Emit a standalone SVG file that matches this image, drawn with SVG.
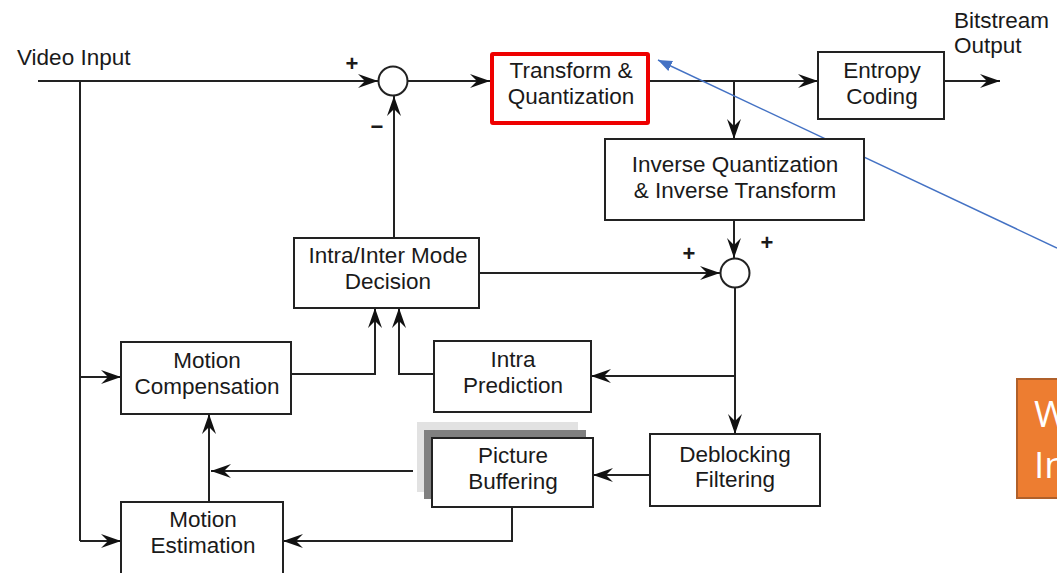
<svg xmlns="http://www.w3.org/2000/svg" width="1057" height="573" viewBox="0 0 1057 573">
<style>
  .box{fill:#fff;stroke:#222;stroke-width:2}
  .lbl{font-family:"Liberation Sans",Arial,sans-serif;font-size:22.5px;fill:#1a1a1a;text-anchor:middle}
  .lbl-l{font-family:"Liberation Sans",Arial,sans-serif;font-size:22.5px;fill:#1a1a1a}
  .sign{font-family:"Liberation Sans",Arial,sans-serif;font-size:22px;font-weight:bold;fill:#1a1a1a;text-anchor:middle}
  .wire{fill:none;stroke:#222;stroke-width:2}
  .sum{fill:#fff;stroke:#222;stroke-width:2}
</style>
<defs>
  <marker id="ah" markerUnits="userSpaceOnUse" markerWidth="22" markerHeight="14" refX="20" refY="7" orient="auto" viewBox="0 0 22 14">
    <path d="M0,0 L20,7 L0,14 L7,7 Z" fill="#111"/>
  </marker>
  <marker id="bh" markerUnits="userSpaceOnUse" markerWidth="16" markerHeight="12" refX="14" refY="5.5" orient="auto" viewBox="0 0 16 12">
    <path d="M0,0 L14,5.5 L0,11 Z" fill="#4472C4"/>
  </marker>
</defs>
<rect width="1057" height="573" fill="#fff"/>

<g id="connectors">
  <path class="wire" d="M38,81 H378" marker-end="url(#ah)"/>
  <path class="wire" d="M408,81 H490" marker-end="url(#ah)"/>
  <path class="wire" d="M650,81 H818" marker-end="url(#ah)"/>
  <path class="wire" d="M734,81 V139" marker-end="url(#ah)"/>
  <path class="wire" d="M944,81 H1000" marker-end="url(#ah)"/>
  <path class="wire" d="M734,220 V258" marker-end="url(#ah)"/>
  <path class="wire" d="M479,273 H720" marker-end="url(#ah)"/>
  <path class="wire" d="M394,238 V96" marker-end="url(#ah)"/>
  <path class="wire" d="M735,288 V434" marker-end="url(#ah)"/>
  <path class="wire" d="M735,376 H591" marker-end="url(#ah)"/>
  <path class="wire" d="M291,374 H375 V308" marker-end="url(#ah)"/>
  <path class="wire" d="M434,374 H399 V308" marker-end="url(#ah)"/>
  <path class="wire" d="M80,81 V541"/>
  <path class="wire" d="M80,377 H121" marker-end="url(#ah)"/>
  <path class="wire" d="M80,541 H121" marker-end="url(#ah)"/>
  <path class="wire" d="M209,502 V414" marker-end="url(#ah)"/>
  <path class="wire" d="M413,471 H211" marker-end="url(#ah)"/>
  <path class="wire" d="M650,475 H593" marker-end="url(#ah)"/>
  <path class="wire" d="M512,507 V541 H283" marker-end="url(#ah)"/>
  <path d="M1057,248 L658,60" fill="none" stroke="#4472C4" stroke-width="1.4" marker-end="url(#bh)"/>
</g>

<g id="video-input">
  <text class="lbl-l" x="17" y="65">Video Input</text>
</g>
<g id="bitstream-output">
  <text class="lbl-l" x="954" y="28">Bitstream</text>
  <text class="lbl-l" x="954" y="53">Output</text>
</g>

<g id="sum1">
  <circle class="sum" cx="393" cy="81" r="14.5"/>
  <text class="sign" x="352" y="71">+</text>
  <text class="sign" x="377" y="134">−</text>
</g>

<g id="sum2">
  <circle class="sum" cx="735" cy="273" r="14.5"/>
  <text class="sign" x="767" y="250">+</text>
  <text class="sign" x="689" y="261">+</text>
</g>

<g id="transform-quantization">
  <rect x="492" y="54" width="156" height="69" fill="#fff" stroke="#EE0000" stroke-width="4" rx="1"/>
  <text class="lbl" x="571" y="78">Transform &amp;</text>
  <text class="lbl" x="571" y="104">Quantization</text>
</g>

<g id="entropy-coding">
  <rect class="box" x="818" y="52" width="126" height="67"/>
  <text class="lbl" x="882" y="78">Entropy</text>
  <text class="lbl" x="882" y="104">Coding</text>
</g>

<g id="inverse-quant">
  <rect class="box" x="605" y="139" width="259" height="81"/>
  <text class="lbl" x="735" y="172">Inverse Quantization</text>
  <text class="lbl" x="735" y="198">&amp; Inverse Transform</text>
</g>

<g id="mode-decision">
  <rect class="box" x="294" y="238" width="185" height="70"/>
  <text class="lbl" x="388" y="263">Intra/Inter Mode</text>
  <text class="lbl" x="388" y="289">Decision</text>
</g>

<g id="motion-compensation">
  <rect class="box" x="121" y="342" width="170" height="72"/>
  <text class="lbl" x="207" y="368">Motion</text>
  <text class="lbl" x="207" y="394">Compensation</text>
</g>

<g id="intra-prediction">
  <rect class="box" x="434" y="341" width="157" height="71"/>
  <text class="lbl" x="513" y="367">Intra</text>
  <text class="lbl" x="513" y="393">Prediction</text>
</g>

<g id="picture-buffering">
  <rect x="417" y="422" width="161" height="70" fill="#e2e2e2"/>
  <rect x="424" y="430" width="162" height="69" fill="#808080"/>
  <rect class="box" x="432" y="438" width="161" height="69"/>
  <text class="lbl" x="513" y="463">Picture</text>
  <text class="lbl" x="513" y="489">Buffering</text>
</g>

<g id="deblocking-filtering">
  <rect class="box" x="650" y="434" width="170" height="72"/>
  <text class="lbl" x="735" y="462">Deblocking</text>
  <text class="lbl" x="735" y="487">Filtering</text>
</g>

<g id="motion-estimation">
  <rect class="box" x="121" y="502" width="162" height="80"/>
  <text class="lbl" x="203" y="527">Motion</text>
  <text class="lbl" x="203" y="553">Estimation</text>
</g>

<g id="callout">
  <rect x="1017" y="379" width="60" height="119" fill="#ED7D31" stroke="#B0602A" stroke-width="2"/>
  <text x="1034" y="427" font-family="'Open Sans','Noto Sans',sans-serif" font-size="37" fill="#fff">W</text>
  <text x="1034" y="478" font-family="'Open Sans','Noto Sans',sans-serif" font-size="37" fill="#fff">In</text>
</g>
</svg>
